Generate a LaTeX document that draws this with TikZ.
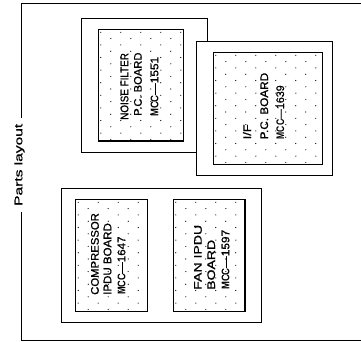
\documentclass[tikz,border=0pt]{standalone}
\usepackage{fontspec}
\usepackage{graphicx}
\setmainfont{Liberation Sans}
\newfontface\boardface{Liberation Sans}[FakeBold=0.8]
\tikzset{
  framebox/.style={draw=black, line width=0.8pt},
  outerbox/.style={draw=black, line width=0.8pt, fill=white},
  innerbox/.style={draw=black, line width=1.3pt, fill=white},
  pcbdot/.style={fill=black},
  boardtext/.style={rotate=90, anchor=base west, inner sep=0pt, font=\boardface\fontsize{11}{13}\selectfont},
}
\newcommand\mcc{\scalebox{0.8}[1]{\normalfont\bfseries MCC}}
\newcommand\bline[5]{%
  \node[boardtext] (#1) at (#2,#3) {\resizebox{#4pt}{\height}{#5}};%
}
\newcommand\pcbdots[4]{%
  \begin{scope}
    \clip (#1+1.2,#2+1.2) rectangle (#3-1.2,#4-1.2);
    \foreach \j in {0,...,18}{%
      \pgfmathsetmacro\yy{#2+3+6.3*\j}%
      \pgfmathsetmacro\xo{#1+2.5+10*mod(\j,2)}%
      \foreach \i in {0,...,7}{%
        \fill[pcbdot] (\xo+20*\i,\yy) circle[radius=0.6pt];}}
  \end{scope}}
\begin{document}
\begin{tikzpicture}[x=1pt,y=-1pt]
\useasboundingbox (0,0) rectangle (361,341);
% outer frame
\draw[framebox] (361,3.5) -- (21,3.5) -- (21,340) -- (361,340);
\node[rotate=90, anchor=base west, fill=white, inner xsep=6pt, inner ysep=2pt,
      font=\boardface\fontsize{11}{13}\selectfont] (label) at (22.3,212) {\resizebox{82pt}{\height}{Parts layout}};
% noise filter board
\draw[outerbox] (81.7,18.3) rectangle (207.7,152.3);
\draw[innerbox] (98.3,29.3) rectangle (183.3,141);
\pcbdots{98.3}{29.3}{183.3}{141}
\bline{nf1}{128.3}{120}{66.7}{NOISE FILTER}
\bline{nf2}{141.7}{116}{63.3}{P.C. BOARD}
\bline{nf3}{158.3}{117}{60}{\mcc—1551}
% I/F board
\draw[outerbox] (196.7,41.7) rectangle (332.7,175);
\draw[innerbox] (213.3,52.3) rectangle (322.3,164.3);
\pcbdots{213.3}{52.3}{322.3}{164.3}
\bline{if1}{251}{139.5}{15}{I/F}
\bline{if2}{268}{139.5}{66.5}{P.C. BOARD}
\bline{if3}{284}{139.5}{54}{\mcc—1639}
% lower group
\draw[outerbox] (61,188.3) rectangle (261,322.7);
\draw[innerbox] (75.7,199.3) rectangle (147.3,311.7);
\pcbdots{75.7}{199.3}{147.3}{311.7}
\draw[innerbox] (173.3,199.3) rectangle (245,311.7);
\pcbdots{173.3}{199.3}{245}{311.7}
\bline{cp1}{98.7}{295}{81.7}{COMPRESSOR}
\bline{cp2}{111.3}{295}{71.7}{IPDU BOARD}
\bline{cp3}{125.3}{295}{58.3}{\mcc—1647}
\bline{fn1}{201.7}{290}{65}{FAN IPDU}
\bline{fn2}{215}{290}{50}{BOARD}
\bline{fn3}{229.3}{290}{60}{\mcc—1597}
\end{tikzpicture}
\end{document}
